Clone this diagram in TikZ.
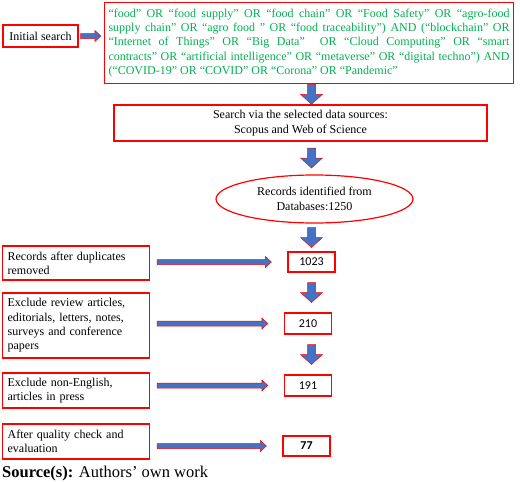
\documentclass[tikz,border=0pt]{standalone}
\usepackage{fontspec}
\setmainfont{Liberation Serif}
\newfontfamily\calib{Carlito}
\usetikzlibrary{positioning,shapes,calc}
\definecolor{qgreen}{HTML}{00B050}
\definecolor{blkblue}{HTML}{4472C4}
\tikzset{
  redbox/.style={draw=red, line width=1.2pt, inner sep=4pt, font=\fontsize{12}{14.3}\selectfont},
  sidebox/.style={redbox, anchor=west, text width=137pt, minimum width=147pt, inner sep=5pt, align=left},
  numbox/.style={redbox, minimum width=47pt, minimum height=20pt, inner sep=0pt, font=\calib\fontsize{12}{14}\selectfont},
  blk/.style={fill=blkblue, draw=red, line width=0.5pt},
}
% one spread line of the query box
\newcommand{\qline}[1]{\makebox[401pt][s]{#1}}
% down block arrow between two nodes of the column
\newcommand{\dnblk}[2]{%
  \draw[blk] let \p1=($(#1.south)!0.5!(#2.north)$), \p2=(N1) in
    (\x2-4pt,\y1+10pt) -- (\x2+4pt,\y1+10pt) -- (\x2+4pt,\y1) -- (\x2+11pt,\y1)
    -- (\x2,\y1-10pt) -- (\x2-11pt,\y1) -- (\x2-4pt,\y1) -- cycle;}
% right block arrow: start, end, gap at start, gap at end
\newcommand{\rtblk}[4]{%
  \draw[blk] let \p1=#1, \p2=#2 in
    (\x1+#3,\y1+2.5pt) -- (\x2-#4-6pt,\y1+2.5pt) -- (\x2-#4-6pt,\y1+5.5pt) -- (\x2-#4,\y1)
    -- (\x2-#4-6pt,\y1-5.5pt) -- (\x2-#4-6pt,\y1-2.5pt) -- (\x1+#3,\y1-2.5pt) -- cycle;}

\begin{document}
\begin{tikzpicture}[x=1pt,y=-1pt]
            \useasboundingbox (0,0) rectangle (520,482);

            \node[redbox, minimum width=75pt, minimum height=22pt] (I) at (40.5,36) {Initial search};
            \node[redbox, minimum width=409pt, minimum height=81pt, align=left, text=qgreen,
                  font=\fontsize{12}{14.2}\selectfont] (Q) at (309,43)
              {\qline{“food” OR “food supply” OR “food chain” OR “Food Safety” OR “agro-food}\\
               \qline{supply chain” OR “agro food ” OR “food traceability”) AND (“blockchain” OR}\\
               \qline{“Internet of Things” OR “Big Data”\ \ OR “Cloud Computing” OR “smart}\\
               \qline{contracts” OR “artificial intelligence” OR “metaverse” OR “digital techno”) AND}\\
               (“COVID-19” OR “COVID” OR “Corona” OR “Pandemic”};
            \rtblk{(I.east)}{(Q.west |- I.east)}{2pt}{3pt}

            \node[redbox, minimum width=373pt, minimum height=36pt, align=center] (S) at (300.5,123)
              {Search via the selected data sources:\\Scopus and Web of Science};
            \node[redbox, ellipse, minimum width=197pt, minimum height=48pt, inner sep=0pt, align=center] (R) at (314.5,199)
              {Records identified from\\Databases:1250};

            \node[numbox] (N1) at (311.5,262) {1023};
            \node[numbox, minimum height=21pt] (N2) at (308,323.5) {210};
            \node[numbox, minimum height=21pt] (N3) at (308,385.5) {191};
            \node[numbox] (N4) at (306.5,446) {\bfseries 77};

            \dnblk{Q}{S}
            \dnblk{S}{R}
            \dnblk{R}{N1}
            \dnblk{N1}{N2}
            \dnblk{N2}{N3}

            \node[sidebox, minimum height=34pt] (L1) at (2,263) {Records after duplicates\\removed};
            \node[sidebox, minimum height=65pt] (L2) at (2,325.5) {Exclude review articles,\\editorials, letters, notes,\\surveys and conference\\papers};
            \node[sidebox, minimum height=35pt] (L3) at (2,390.5) {Exclude non-English,\\articles in press};
            \node[sidebox, minimum height=35pt] (L4) at (2,441.5) {After quality check and\\evaluation};

            \rtblk{(L1.east |- N1)}{(N1.west)}{7pt}{16pt}
            \rtblk{(L2.east |- N2)}{(N2.west)}{7pt}{16pt}
            \rtblk{(L3.east |- N3)}{(N3.west)}{7pt}{16pt}
            \rtblk{(L4.east |- N4)}{(N4.west)}{7pt}{16pt}

            \node[anchor=base west, inner sep=0pt, font=\fontsize{16.5}{19}\selectfont] (src) at (2,477.5)
              {\textbf{Source(s):} Authors’ own work};
        \end{tikzpicture}
\end{document}
